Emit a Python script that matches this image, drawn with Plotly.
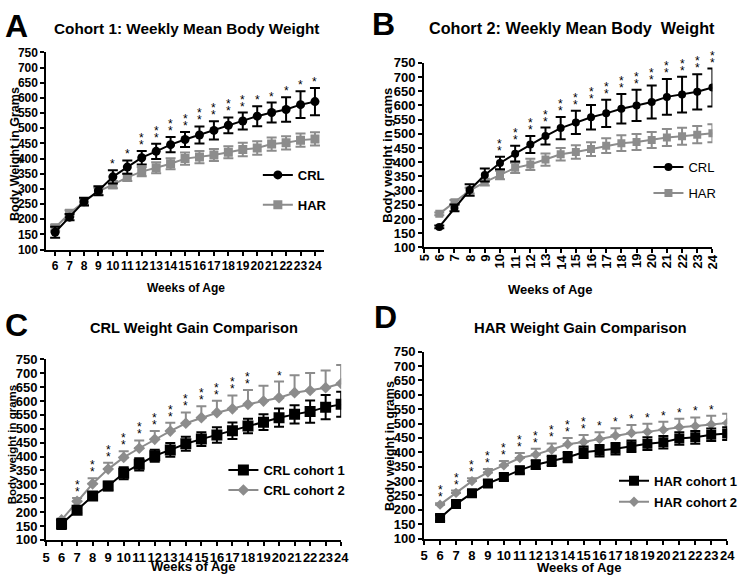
import plotly.graph_objects as go

W, H = 745, 582

# ---------------- data ----------------
weeks = list(range(6, 25))

c1_crl_mean = [157, 207, 258, 294, 340, 372, 403, 424, 446, 463, 478, 493, 510, 524, 540, 552, 562, 578, 588]
c1_crl_err = [18, 10, 13, 15, 22, 22, 22, 25, 25, 25, 28, 30, 26, 28, 33, 33, 40, 44, 45]
c1_har_mean = [172, 220, 258, 292, 314, 338, 357, 370, 383, 400, 405, 412, 421, 430, 435, 448, 452, 461, 465]
c1_har_err = [10, 10, 10, 12, 12, 12, 15, 18, 18, 20, 20, 20, 20, 22, 22, 22, 22, 22, 22]

c2_crl_mean = [172, 239, 302, 355, 397, 430, 462, 492, 520, 540, 558, 572, 588, 600, 612, 630, 638, 648, 663]
c2_crl_err = [5, 12, 20, 23, 22, 28, 30, 30, 39, 41, 43, 48, 52, 55, 58, 63, 63, 62, 67]
c2_har_mean = [218, 259, 300, 330, 355, 380, 392, 409, 428, 436, 446, 458, 467, 471, 478, 487, 491, 497, 502]
c2_har_err = [5, 8, 10, 12, 15, 18, 20, 22, 22, 24, 24, 26, 28, 28, 28, 30, 30, 30, 32]

# number of significance stars per week
stars_a = [0, 0, 0, 0, 1, 1, 2, 2, 2, 2, 2, 2, 2, 2, 1, 1, 1, 1, 1]
stars_b = [0, 0, 0, 0, 2, 2, 2, 2, 2, 2, 2, 2, 2, 2, 2, 2, 2, 2, 2]
stars_c = [0, 2, 2, 2, 2, 2, 2, 2, 2, 2, 2, 2, 2, 0, 1, 0, 0, 0, 0]
stars_d = [2, 2, 2, 2, 2, 2, 2, 2, 2, 2, 1, 1, 1, 1, 1, 1, 1, 1, 0]

y_ticks = list(range(100, 751, 50))
x_ticks_a = list(range(6, 25))
x_ticks_full = list(range(5, 25))

BLACK = "#000000"
GRAY = "#8c8c8c"
FONT = "Arial, Liberation Sans, sans-serif"


def px(x):
    return x / W


def py(y):
    return 1 - y / H


fig = go.Figure()


def add_series(n, y, err, color, symbol, size, name, rank, full=True):
    fig.add_trace(go.Scatter(
        x=weeks, y=y, xaxis="x" + (str(n) if n > 1 else ""), yaxis="y" + (str(n) if n > 1 else ""),
        mode="lines+markers",
        line=dict(color=color, width=2),
        marker=dict(color=color, symbol=symbol, size=size, line=dict(width=0)),
        error_y=dict(type="data", array=err, arrayminus=err if full else [0] * len(err),
                     symmetric=False, color=color, thickness=2, width=5),
        name=name, legend="legend" + (str(n) if n > 1 else ""),
        legendgroup=name, legendrank=rank,
    ))


annotations = []


def add_stars(n, mean, err, stars):
    for w, m, e, s in zip(weeks, mean, err, stars):
        for k in range(s):
            annotations.append(dict(
                x=w, y=m + e, xref="x" + (str(n) if n > 1 else ""), yref="y" + (str(n) if n > 1 else ""),
                text="*", showarrow=False, yanchor="bottom", yshift=-3 + 7 * k,
                font=dict(family=FONT, size=12, color=BLACK)))


# Panel A
add_series(1, c1_har_mean, c1_har_err, GRAY, "square", 9, "HAR", 2)
add_series(1, c1_crl_mean, c1_crl_err, BLACK, "circle", 9, "CRL", 1)
add_stars(1, c1_crl_mean, c1_crl_err, stars_a)
# Panel B
add_series(2, c2_har_mean, c2_har_err, GRAY, "square", 8, "HAR", 2)
add_series(2, c2_crl_mean, c2_crl_err, BLACK, "circle", 8, "CRL", 1)
add_stars(2, c2_crl_mean, c2_crl_err, stars_b)
# Panel C
add_series(3, c2_crl_mean, c2_crl_err, GRAY, "diamond", 9, "CRL cohort 2", 2, full=False)
add_series(3, c1_crl_mean, c1_crl_err, BLACK, "square", 11, "CRL cohort 1", 1)
add_stars(3, c2_crl_mean, c2_crl_err, stars_c)
# Panel D
add_series(4, c2_har_mean, c2_har_err, GRAY, "diamond", 8, "HAR cohort 2", 2, full=False)
add_series(4, c1_har_mean, c1_har_err, BLACK, "square", 10, "HAR cohort 1", 1)
add_stars(4, c2_har_mean, c2_har_err, stars_d)


def xaxis(domain, rng, anchor, tickvals, size, labels=True):
    return dict(domain=domain, range=rng, anchor=anchor, tickmode="array", tickvals=tickvals,
                showline=True, linecolor=BLACK, linewidth=2, ticks="outside", ticklen=4,
                tickwidth=2, tickcolor=BLACK, tickangle=0, showticklabels=labels,
                tickfont=dict(family=FONT, size=size, color=BLACK, weight="bold"),
                showgrid=False, zeroline=False, fixedrange=True)


def yaxis(domain, anchor, size):
    return dict(domain=domain, range=[100, 750], anchor=anchor, tickmode="array", tickvals=y_ticks,
                showline=True, linecolor=BLACK, linewidth=2, ticks="outside", ticklen=4,
                tickwidth=2, tickcolor=BLACK,
                tickfont=dict(family=FONT, size=size, color=BLACK, weight="bold"),
                showgrid=False, zeroline=False, fixedrange=True)


def legend(x, y, size, bold, gap):
    return dict(x=x, y=y, xanchor="left", yanchor="top", bgcolor="rgba(0,0,0,0)",
                font=dict(family=FONT, size=size, color=BLACK, weight="bold" if bold else "normal"),
                itemwidth=30, tracegroupgap=gap, traceorder="grouped")


def text(x, y, s, size, angle=0, bold=True):
    annotations.append(dict(x=px(x), y=py(y), xref="paper", yref="paper", text=s, showarrow=False,
                            xanchor="center", yanchor="middle", textangle=angle,
                            font=dict(family=FONT, size=size, color=BLACK,
                                      weight="bold" if bold else "normal")))


# rotated tick labels for panel B (vertical, reading bottom-to-top)
for t in x_ticks_full:
    annotations.append(dict(x=t, y=py(252), xref="x2", yref="paper", text=str(t), showarrow=False,
                            xanchor="center", yanchor="top", textangle=-90,
                            font=dict(family=FONT, size=13, color=BLACK, weight="bold")))

# panel letters
text(13, 20, "A", 32)
text(386, 17, "B", 32)
text(13, 326, "C", 32)
text(388, 318, "D", 32)
# titles
text(185, 22, "Cohort 1: Weekly Mean Body Weight", 15.3)
text(577, 22, "Cohort 2: Weekly Mean Body  Weight", 16.2)
text(193, 330, "CRL Weight Gain Comparison", 14.6)
text(586, 330, "HAR Weight Gain Comparison", 14.8)
# y titles
text(11, 151, "Body Weight in Grams", 12.5, -90)
text(389, 152, "Body weight in grams", 13, -90)
text(9, 449, "Body weight in grams", 11.5, -90)
text(393, 451, "Body weight in grams", 12.5, -90)
# x titles
text(185, 288, "Weeks of Age", 12)
text(555, 290, "Weeks of Age", 13)
text(193, 574, "Weeks of Age", 13)
text(585, 575, "Weeks of Age", 13)

fig.update_layout(
    width=W, height=H, autosize=False,
    margin=dict(l=0, r=0, t=0, b=0),
    paper_bgcolor="white", plot_bgcolor="white",
    showlegend=True,
    xaxis=xaxis([px(43), px(325)], [5.39, 24.61], "y", x_ticks_a, 12),
    yaxis=yaxis([py(249), py(46.7)], "x", 12),
    xaxis2=xaxis([px(427), px(720)], [5, 24], "y2", x_ticks_full, 13, labels=False),
    yaxis2=yaxis([py(246.7), py(57.3)], "x2", 13),
    xaxis3=xaxis([px(42.7), px(342.7)], [5, 24], "y3", x_ticks_full, 13),
    yaxis3=yaxis([py(547), py(361.7)], "x3", 13),
    xaxis4=xaxis([px(427), px(735)], [5, 24], "y4", x_ticks_full, 13),
    yaxis4=yaxis([py(545.7), py(353.7)], "x4", 13),
    legend=legend(px(258), py(157), 13, True, 10),
    legend2=legend(px(655), py(149), 13, False, 6),
    legend3=legend(px(223), py(460), 13, True, 0),
    legend4=legend(px(620), py(471), 13, True, 1),
    annotations=annotations,
)

fig.write_html(
    "out.html",
    config={"displayModeBar": False},
    post_script="document.body.style.margin='0';document.body.style.overflow='hidden';",
)
